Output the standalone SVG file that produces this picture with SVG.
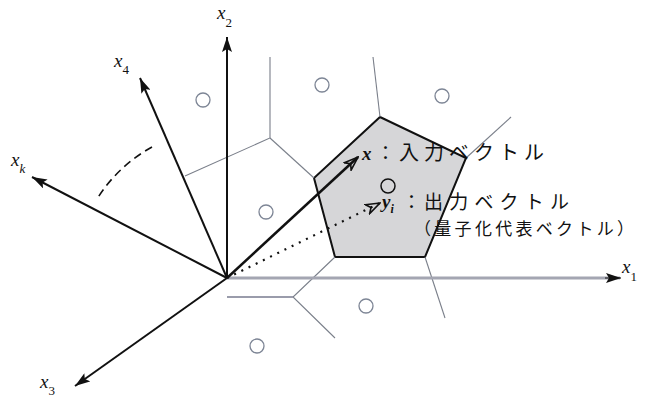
<svg xmlns="http://www.w3.org/2000/svg" width="646" height="401" viewBox="0 0 646 401">
<defs>
<style>
.axis{stroke:#111;stroke-width:2;fill:none}
.vor{stroke:#7a7f8a;stroke-width:1.1;fill:none}
.pt{stroke:#7d8595;stroke-width:1.3;fill:none}
.lbl{font-family:"Liberation Serif",serif;font-style:italic;font-size:19px;fill:#111}
.sub{font-size:13px;font-style:normal}
.subi{font-size:13px;font-style:italic}
.jp{font-family:"Noto Sans CJK JP","Noto Sans",sans-serif;fill:#111}
.vec{font-family:"Liberation Serif",serif;font-style:italic;font-weight:bold;fill:#111}
</style>
<marker id="ah" markerUnits="userSpaceOnUse" viewBox="0 0 15 10" markerWidth="15" markerHeight="10" refX="15" refY="5" orient="auto">
<path d="M0,0 L15,5 L0,10 L3,5 z" fill="#111"/>
</marker>
<marker id="oh" markerUnits="userSpaceOnUse" viewBox="0 0 16 12" markerWidth="16" markerHeight="12" refX="15" refY="6" orient="auto">
<path d="M1,1 L15,6 L1,11 L5,6 z" fill="none" stroke="#111" stroke-width="1.6"/>
</marker>
</defs>
<rect width="646" height="401" fill="#fff"/>

<g id="pentagon">
<polygon points="380,117 466,158 425,257 335,257 314,178" fill="#d6d6d8" stroke="#111" stroke-width="2"/>
</g>

<g id="voronoi">
<polyline class="vor" points="270,57 270,138 185,176"/>
<line class="vor" x1="270" y1="138" x2="314" y2="178"/>
<line class="vor" x1="380" y1="117" x2="373" y2="57"/>
<line class="vor" x1="466" y1="158" x2="511" y2="117"/>
<polyline class="vor" points="335,257 293,297 335,338"/>
<line x1="227" y1="297" x2="293" y2="297" stroke="#9a9cab" stroke-width="2"/>
<line class="vor" x1="425" y1="257" x2="445" y2="318"/>
</g>

<g id="points">
<circle class="pt" cx="203" cy="100" r="7"/>
<circle class="pt" cx="322" cy="85" r="7"/>
<circle class="pt" cx="442" cy="96" r="7"/>
<circle class="pt" cx="266" cy="212" r="7"/>
<circle class="pt" cx="257" cy="346" r="7"/>
<circle class="pt" cx="366" cy="306" r="7"/>
<circle cx="388" cy="186" r="7" fill="none" stroke="#111" stroke-width="1.5"/>
</g>

<g id="connectors">
<line x1="227" y1="278" x2="620" y2="278" stroke="#a4a6b2" stroke-width="3"/>
<line x1="605" y1="278" x2="621" y2="278" stroke="#111" stroke-width="1" marker-end="url(#ah)"/>
<line class="axis" x1="227" y1="278" x2="227" y2="37" marker-end="url(#ah)"/>
<line class="axis" x1="227" y1="278" x2="140" y2="78" marker-end="url(#ah)"/>
<line class="axis" x1="227" y1="278" x2="32" y2="177" marker-end="url(#ah)"/>
<line class="axis" x1="227" y1="278" x2="75" y2="386" marker-end="url(#ah)"/>
<path d="M152,147 A150,150 0 0 0 97,199" fill="none" stroke="#111" stroke-width="1.6" stroke-dasharray="8,5"/>
<line x1="227" y1="278" x2="358" y2="157" stroke="#111" stroke-width="2.5" marker-end="url(#oh)"/>
<line x1="227" y1="278" x2="380" y2="203" stroke="#111" stroke-width="2.2" stroke-dasharray="2,6" marker-end="url(#oh)"/>
</g>

<g id="axis-labels">
<text class="lbl" x="217" y="19">x<tspan class="sub" dy="8">2</tspan></text>
<text class="lbl" x="114" y="67">x<tspan class="sub" dy="7">4</tspan></text>
<text class="lbl" x="11" y="166">x<tspan class="subi" dy="7">k</tspan></text>
<text class="lbl" x="40" y="388">x<tspan class="sub" dy="7">3</tspan></text>
<text class="lbl" x="622" y="273">x<tspan class="sub" dy="8">1</tspan></text>
</g>

<g id="vector-labels">
<text class="vec" x="362" y="160" font-size="19">x</text>
<text class="jp" x="376" y="160" font-size="19">：</text>
<text class="jp" x="399" y="160" font-size="20" textLength="145" lengthAdjust="spacing">入力ベクトル</text>
<text class="vec" x="382" y="208" font-size="19">y<tspan font-size="12" dy="5">i</tspan></text>
<text class="jp" x="402" y="209" font-size="19">：</text>
<text class="jp" x="424" y="209" font-size="19" textLength="145" lengthAdjust="spacing">出力ベクトル</text>
<text class="jp" x="414" y="235" font-size="17" textLength="220" lengthAdjust="spacing">（量子化代表ベクトル）</text>
</g>
</svg>
